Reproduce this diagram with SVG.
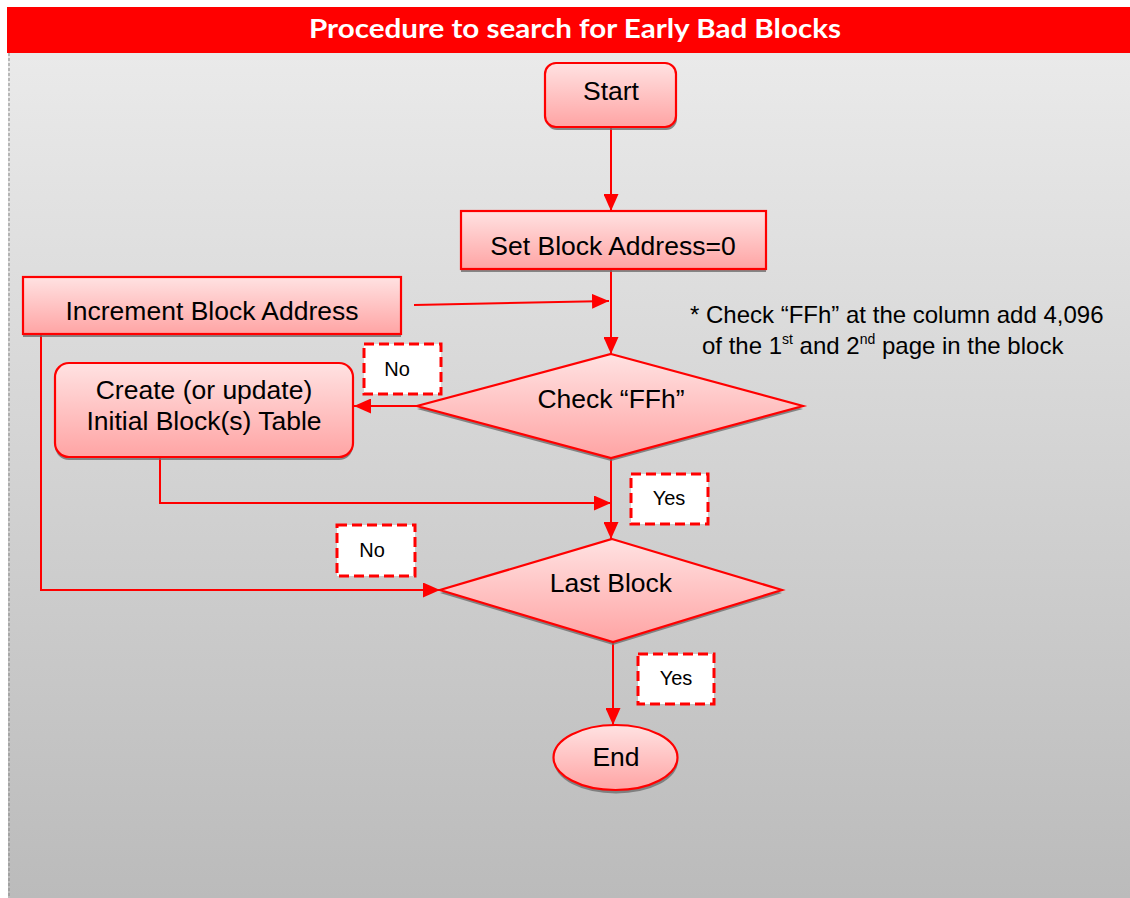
<svg xmlns="http://www.w3.org/2000/svg" width="1130" height="898" viewBox="0 0 1130 898">
<defs>
<linearGradient id="bg" x1="0" y1="0" x2="0" y2="1">
<stop offset="0" stop-color="#eaeaea"/>
<stop offset="1" stop-color="#bbbbbb"/>
</linearGradient>
<linearGradient id="nodeFill" x1="0" y1="0" x2="0" y2="1">
<stop offset="0" stop-color="#ffe2e2"/>
<stop offset="1" stop-color="#ffa4a4"/>
</linearGradient>
<marker id="arrow" markerUnits="userSpaceOnUse" markerWidth="17" markerHeight="15" refX="17" refY="7.5" orient="auto">
<path d="M0,0 L17,7.5 L0,15 z" fill="#ff0000"/>
</marker>
</defs>
<style>
.node{fill:url(#nodeFill);stroke:#ff0000;stroke-width:2.2}
.shadow{fill:#6e6e6e;opacity:0.8}
.t{font-family:"Liberation Sans",Arial,sans-serif;font-size:26.5px;fill:#000;text-anchor:middle}
.lbl{fill:#ffffff;stroke:#ff0000;stroke-width:3;stroke-dasharray:10 5}
.lt{font-family:"Liberation Sans",Arial,sans-serif;font-size:20px;fill:#000;text-anchor:middle}
.note{font-family:"Liberation Sans",Arial,sans-serif;font-size:24px;fill:#000}
.conn{fill:none;stroke:#ff0000;stroke-width:2}
</style>

<rect x="0" y="0" width="1130" height="898" fill="#ffffff"/>
<rect x="8" y="53" width="1122" height="845" fill="url(#bg)"/>
<line x1="9" y1="53" x2="9" y2="898" stroke="#888888" stroke-width="1" stroke-dasharray="3 2"/>

<g id="title">
<rect x="7" y="7" width="1123" height="46" fill="#ff0000"/>
<text x="575" y="38" font-family="Lato,'Open Sans',sans-serif" font-weight="bold" font-size="26" fill="#ffffff" text-anchor="middle" textLength="532" lengthAdjust="spacingAndGlyphs">Procedure to search for Early Bad Blocks</text>
</g>

<g id="connectors">
<path class="conn" d="M611,127 L611,211" marker-end="url(#arrow)"/>
<path class="conn" d="M611,269 L611,354" marker-end="url(#arrow)"/>
<path class="conn" d="M414,305 L609,301" marker-end="url(#arrow)"/>
<path class="conn" d="M417,406 L354,406" marker-end="url(#arrow)"/>
<path class="conn" d="M160,457 L160,503 L611,503" marker-end="url(#arrow)"/>
<path class="conn" d="M611,458 L611,539" marker-end="url(#arrow)"/>
<path class="conn" d="M41,335 L41,590 L440,590" marker-end="url(#arrow)"/>
<path class="conn" d="M613,642 L613,725" marker-end="url(#arrow)"/>
</g>

<g id="start">
<rect class="shadow" x="546" y="66" width="131" height="64" rx="11"/>
<rect class="node" x="545" y="63" width="131" height="64" rx="11"/>
<text class="t" x="611" y="100">Start</text>
</g>

<g id="set-block">
<rect class="shadow" x="461" y="214" width="305" height="58"/>
<rect class="node" x="461" y="211" width="305" height="58"/>
<text class="t" x="613" y="255">Set Block Address=0</text>
</g>

<g id="increment">
<rect class="shadow" x="23" y="280" width="378" height="57"/>
<rect class="node" x="23" y="277" width="378" height="57"/>
<text class="t" x="212" y="320">Increment Block Address</text>
</g>

<g id="create-table">
<rect class="shadow" x="55" y="366" width="298" height="94" rx="14"/>
<rect class="node" x="55" y="363" width="298" height="94" rx="14"/>
<text class="t" x="204" y="399">Create (or update)</text>
<text class="t" x="204" y="430">Initial Block(s) Table</text>
</g>

<g id="check-ffh">
<polygon class="shadow" points="611,357 803,409 611,461 417,409"/>
<polygon class="node" points="611,354 803,406 611,458 417,406"/>
<text class="t" x="611" y="408">Check “FFh”</text>
</g>

<g id="last-block">
<polygon class="shadow" points="612,542 782,593 613,645 440,593"/>
<polygon class="node" points="612,539 782,590 613,642 440,590"/>
<text class="t" x="611" y="592">Last Block</text>
</g>

<g id="end">
<ellipse class="shadow" cx="616" cy="761" rx="62" ry="32.5"/>
<ellipse class="node" cx="615.5" cy="757.5" rx="62" ry="32.5"/>
<text class="t" x="616" y="766">End</text>
</g>

<g id="label-no-1">
<rect class="lbl" x="364" y="344" width="77" height="50"/>
<text class="lt" x="397" y="376">No</text>
</g>
<g id="label-yes-1">
<rect class="lbl" x="631" y="474" width="77" height="50"/>
<text class="lt" x="669" y="505">Yes</text>
</g>
<g id="label-no-2">
<rect class="lbl" x="337" y="525" width="78" height="51"/>
<text class="lt" x="372" y="557">No</text>
</g>
<g id="label-yes-2">
<rect class="lbl" x="638" y="654" width="76" height="50"/>
<text class="lt" x="676" y="685">Yes</text>
</g>

<g id="note">
<text class="note" x="690" y="323">* Check “FFh” at the column add 4,096</text>
<text class="note" x="702" y="354">of the 1<tspan font-size="14" dy="-10">st</tspan><tspan dy="10"> and 2</tspan><tspan font-size="14" dy="-10">nd</tspan><tspan dy="10"> page in the block</tspan></text>
</g>
</svg>
